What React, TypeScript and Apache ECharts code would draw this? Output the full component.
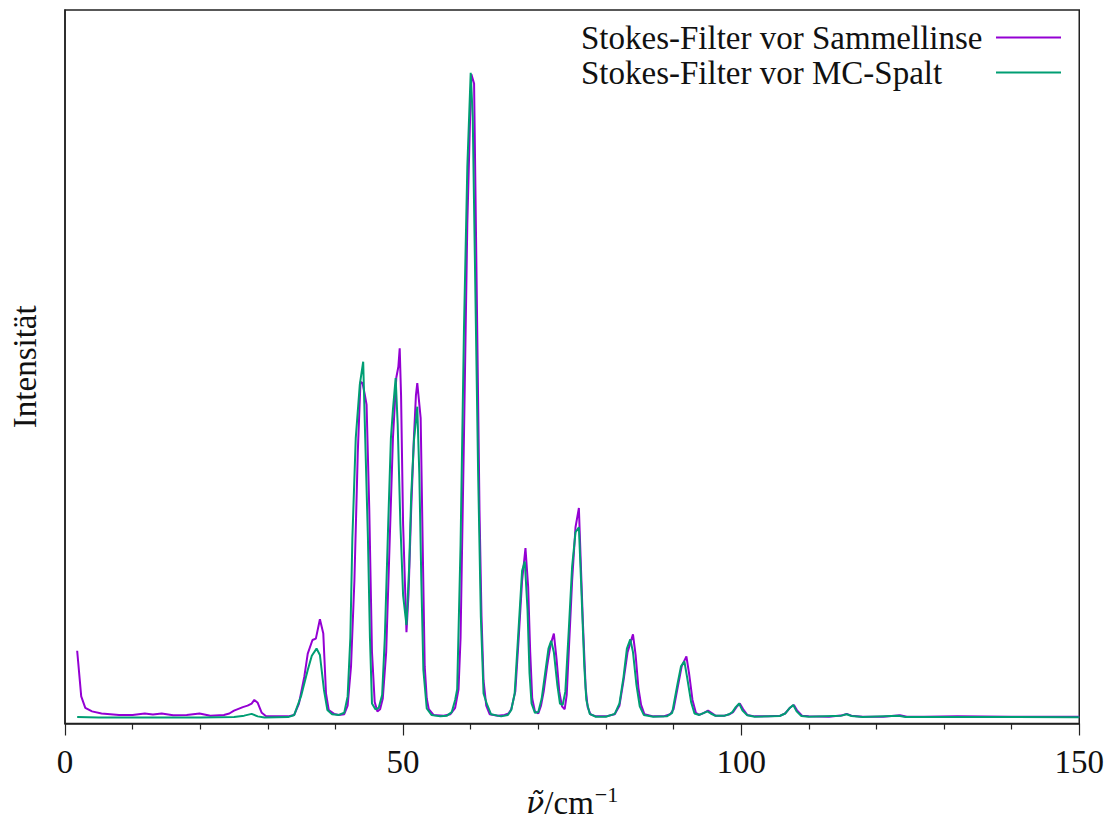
import React, { useEffect, useRef } from "react";
import * as echarts from "echarts";

const seriesNames = ["Stokes-Filter vor Sammellinse", "Stokes-Filter vor MC-Spalt"];

const purpleX = [1.8, 2.4, 3.0, 4.0, 5.4, 8.0, 10.0, 11.8, 13.0, 14.3, 16.0, 18.0, 19.9, 21.5, 23.5, 24.3, 25.0, 26.3, 27.0, 27.6, 28.0, 28.5, 29.1, 29.7, 31.5, 33.0, 33.9, 34.6, 35.4, 35.9, 36.6, 37.1, 37.7, 38.2, 38.6, 39.0, 39.8, 40.5, 41.3, 41.8, 42.3, 42.8, 43.3, 43.7, 44.0, 44.3, 44.6, 45.0, 45.4, 45.8, 46.2, 46.6, 47.0, 47.5, 48.0, 48.5, 49.0, 49.3, 49.5, 49.7, 50.0, 50.5, 50.8, 51.2, 51.6, 51.9, 52.1, 52.6, 52.9, 53.2, 53.5, 53.8, 54.5, 56.0, 57.0, 57.7, 58.2, 58.5, 59.0, 59.5, 60.0, 60.1, 60.5, 60.9, 61.3, 61.6, 61.9, 62.3, 62.8, 64.0, 65.0, 65.6, 66.0, 66.6, 67.1, 67.6, 68.1, 68.5, 68.8, 69.1, 69.5, 70.0, 70.4, 70.8, 71.3, 71.8, 72.3, 72.7, 73.1, 73.5, 73.9, 74.2, 74.6, 75.0, 75.5, 76.0, 76.3, 76.6, 77.0, 77.3, 77.7, 78.5, 80.0, 81.3, 82.0, 82.6, 83.2, 84.0, 84.4, 84.8, 85.2, 85.7, 87.0, 88.5, 89.5, 90.0, 90.6, 91.2, 91.9, 92.3, 92.8, 93.3, 93.8, 94.5, 95.1, 95.6, 96.2, 97.5, 98.3, 98.8, 99.3, 99.8, 100.3, 100.9, 102.0, 104.0, 105.8, 106.5, 107.2, 107.8, 108.3, 109.0, 110.0, 113.0, 115.0, 115.6, 116.3, 118.0, 121.0, 123.5, 124.5, 127.0, 132.0, 140.0, 150.0];
const purpleY = [10.2, 3.8, 2.2, 1.7, 1.4, 1.2, 1.2, 1.4, 1.25, 1.4, 1.15, 1.2, 1.4, 1.1, 1.2, 1.4, 1.8, 2.3, 2.5, 2.8, 3.3, 2.9, 1.5, 1.05, 1.0, 1.0, 1.2, 2.8, 6.6, 9.8, 11.7, 11.9, 14.6, 12.6, 4.2, 1.9, 1.35, 1.2, 1.3, 2.5, 8, 20, 38, 47.9, 47.7, 46.3, 44.7, 30, 10, 3, 1.7, 2.0, 3.5, 10, 25, 40, 48.5, 50, 52.6, 46, 28, 12.8, 18, 30, 40, 46, 47.7, 42.8, 25, 8, 3.5, 2.0, 1.2, 1.1, 1.3, 2.2, 4.8, 12, 40, 70, 88, 91.0, 89.7, 60, 30, 15, 6, 2.5, 1.3, 1.1, 1.2, 1.4, 2.0, 4.5, 12, 20, 24.6, 19.1, 10, 3.5, 1.7, 1.4, 2.5, 4.5, 8, 11, 12.6, 9, 4.5, 2.4, 2.0, 4.0, 12, 20, 27.5, 30.2, 22, 14, 5, 2.3, 1.3, 1.0, 1.0, 1.3, 2.5, 6, 10, 12.5, 9.5, 5, 2.6, 1.3, 1.0, 1.0, 1.3, 2.0, 5, 8, 9.4, 7, 3.3, 1.5, 1.2, 1.5, 1.8, 1.5, 1.1, 1.1, 1.3, 1.6, 2.3, 2.8, 2.0, 1.2, 1.0, 1.0, 1.1, 1.4, 2.2, 2.6, 1.8, 1.1, 1.0, 0.95, 1.15, 1.35, 1.1, 0.95, 0.95, 1.15, 0.95, 0.95, 1.0, 0.95, 0.95];

const greenX = [1.8, 5.0, 10.0, 15.0, 20.0, 25.0, 26.5, 27.6, 28.5, 29.5, 33.0, 33.9, 34.9, 35.9, 36.5, 37.2, 37.7, 38.3, 38.8, 39.5, 40.5, 41.3, 41.8, 42.2, 42.5, 43.0, 43.6, 44.1, 44.4, 44.8, 45.1, 45.4, 45.9, 46.4, 46.9, 47.3, 47.8, 48.2, 48.5, 48.9, 49.2, 49.6, 50.0, 50.5, 50.9, 51.2, 51.6, 52.1, 52.4, 52.7, 53.0, 53.5, 54.2, 55.5, 56.5, 57.2, 57.7, 58.0, 58.5, 59.0, 59.5, 60.0, 60.3, 60.7, 61.1, 61.5, 61.9, 62.4, 63.0, 64.5, 65.5, 66.0, 66.5, 67.0, 67.6, 68.0, 68.4, 68.7, 69.0, 69.5, 70.0, 70.5, 71.0, 71.5, 71.9, 72.3, 72.8, 73.2, 73.6, 74.0, 74.5, 75.0, 75.5, 76.0, 76.4, 76.8, 77.1, 77.6, 78.5, 80.0, 81.3, 82.0, 82.6, 83.1, 83.6, 84.0, 84.5, 85.0, 85.6, 87.0, 89.0, 89.8, 90.6, 91.1, 91.6, 92.0, 92.6, 93.1, 93.8, 94.5, 95.0, 95.5, 96.2, 97.5, 98.2, 98.7, 99.2, 99.7, 100.2, 100.9, 102.0, 105.7, 106.5, 107.1, 107.7, 108.2, 108.9, 110.0, 114.8, 115.6, 116.3, 118.0, 123.3, 124.3, 130.0, 140.0, 150.0];
const greenY = [0.9, 0.85, 0.85, 0.85, 0.85, 0.9, 1.1, 1.35, 1.0, 0.85, 0.9, 1.2, 3.8, 7.5, 9.5, 10.5, 9.6, 4.7, 1.9, 1.3, 1.2, 1.5, 3.8, 12, 26, 40, 47.5, 50.7, 40, 26, 12, 2.8, 2.0, 2.2, 4, 12, 28, 40, 44, 48.4, 42, 28, 18, 13.8, 22, 32, 39.6, 44.4, 35, 20, 7.5, 2.1, 1.2, 1.0, 1.1, 1.6, 3.3, 4.8, 25, 55, 78, 91.2, 85, 60, 35, 15, 4.2, 2.7, 1.3, 1.0, 1.2, 1.9, 4.2, 12, 21.4, 22.7, 16, 7, 2.8, 1.5, 1.6, 3.5, 7, 10.5, 11.6, 10, 5.5, 2.8, 2.6, 4.5, 13, 22, 26.8, 27.5, 18, 8, 3.3, 1.35, 0.95, 0.95, 1.35, 2.8, 6.5, 10.5, 11.8, 10, 5.5, 2.4, 1.2, 0.95, 1.0, 1.5, 5.6, 8, 8.7, 6.5, 3, 1.4, 1.2, 1.5, 1.7, 1.4, 1.07, 1.07, 1.3, 1.6, 2.3, 2.8, 1.8, 1.15, 0.95, 1.05, 1.4, 2.1, 2.6, 1.7, 1.05, 0.95, 1.1, 1.3, 1.05, 0.9, 1.1, 0.9, 0.9, 0.9, 0.88];

const xTickLabels = ["0", "50", "100", "150"];

const pairs = (xs: number[], ys: number[]) => xs.map((x, i) => [x, ys[i]]);

export default function App() {
  const ref = useRef<HTMLDivElement>(null);
  useEffect(() => {
    if (!ref.current) return;
    const chart = echarts.init(ref.current, null, { renderer: "svg" });
    const font = "Liberation Serif";
    const legendCommon = {
      orient: "vertical",
      left: 576,
      align: "right",
      icon: "rect",
      itemWidth: 65,
      itemHeight: 2,
      textStyle: {
        fontFamily: font,
        fontSize: 33,
        color: "#111111",
        rich: {
          t: { fontFamily: font, fontSize: 33, color: "#111111", width: 410, align: "left" },
        },
      },
      formatter: (name: string) => "{t|" + name + "}",
    };
    chart.setOption({
      animation: false,
      backgroundColor: "#ffffff",
      textStyle: { fontFamily: font },
      grid: {
        left: 63,
        right: 25,
        top: 10,
        bottom: 97,
        show: true,
        borderColor: "#222222",
        borderWidth: 1.5,
      },
      legend: [
        { ...legendCommon, top: 16, data: [seriesNames[0]] },
        { ...legendCommon, top: 51, data: [seriesNames[1]] },
      ],
      xAxis: {
        type: "value",
        min: 0,
        max: 150,
        interval: 50,
        name: "{nu|ν̃}{r|/cm}{s|−1}",
        nameLocation: "middle",
        nameGap: 60,
        nameTextStyle: {
          fontFamily: font,
          fontSize: 33,
          color: "#111111",
          rich: {
            nu: { fontFamily: "DejaVu Serif", fontStyle: "italic", fontSize: 30, color: "#111111" },
            r: { fontFamily: font, fontSize: 33, color: "#111111" },
            s: { fontFamily: font, fontSize: 22, color: "#111111", padding: [0, 0, 16, 1] },
          },
        },
        axisLine: { show: true, lineStyle: { color: "#222222", width: 1.5 } },
        axisTick: { show: true, length: 12, lineStyle: { color: "#222222", width: 1.2 } },
        minorTick: { show: true, splitNumber: 5, length: 6, lineStyle: { color: "#222222", width: 1.2 } },
        axisLabel: {
          fontFamily: font,
          fontSize: 33,
          color: "#111111",
          margin: 22,
          formatter: (v: number) => {
            const s = String(v);
            return xTickLabels.includes(s) ? s : "";
          },
        },
        splitLine: { show: false },
      },
      yAxis: {
        type: "value",
        min: 0,
        max: 100,
        name: "Intensität",
        nameLocation: "middle",
        nameGap: 24,
        nameTextStyle: { fontFamily: font, fontSize: 33, color: "#111111" },
        axisLine: { show: true, lineStyle: { color: "#222222", width: 1.5 } },
        axisTick: { show: false },
        axisLabel: { show: false },
        splitLine: { show: false },
      },
      series: [
        {
          name: seriesNames[0],
          type: "line",
          data: pairs(purpleX, purpleY),
          symbol: "none",
          lineStyle: { color: "#9400d3", width: 2 },
          itemStyle: { color: "#9400d3" },
        },
        {
          name: seriesNames[1],
          type: "line",
          data: pairs(greenX, greenY),
          symbol: "none",
          lineStyle: { color: "#009e73", width: 2 },
          itemStyle: { color: "#009e73" },
        },
      ],
    });
    return () => chart.dispose();
  }, []);
  return <div ref={ref} style={{ width: 1107, height: 824, position: "absolute", left: 0, top: 0 }} />;
}
